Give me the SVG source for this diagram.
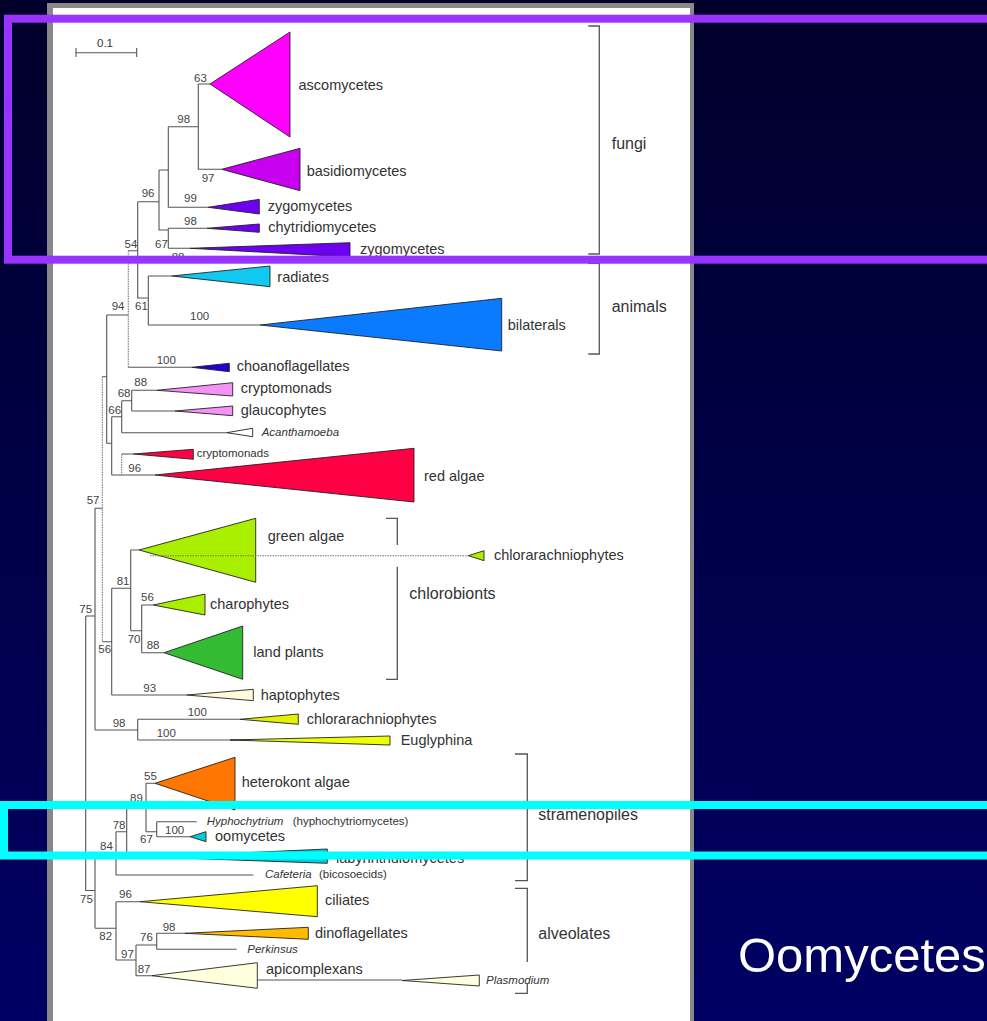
<svg xmlns="http://www.w3.org/2000/svg" width="987" height="1021" viewBox="0 0 987 1021">
<defs>
<linearGradient id="bg" x1="0" y1="0" x2="0" y2="1">
<stop offset="0" stop-color="#00002a"/>
<stop offset="1" stop-color="#000064"/>
</linearGradient>
<style>
.br{fill:none;stroke:#555;stroke-width:1.1}
.dot{fill:none;stroke:#777;stroke-width:1.1;stroke-dasharray:1.5 1}
.tri{stroke:#222;stroke-width:0.9;stroke-linejoin:miter}
.lb{font-family:"Liberation Sans",Arial,Helvetica,sans-serif;font-size:14.5px;fill:#333}
.it{font-family:"Liberation Sans",Arial,Helvetica,sans-serif;font-size:11.5px;font-style:italic;fill:#333}
.sm{font-family:"Liberation Sans",Arial,Helvetica,sans-serif;font-size:11.5px;fill:#333}
.bs{font-family:"Liberation Sans",Arial,Helvetica,sans-serif;font-size:11.5px;fill:#444}
.grp{font-family:"Liberation Sans",Arial,Helvetica,sans-serif;font-size:16px;fill:#333}
.brk{fill:none;stroke:#555;stroke-width:1.3}
.hl{fill:none;stroke-width:8}
</style>
</defs>
<rect x="0" y="0" width="987" height="1021" fill="url(#bg)"/>
<rect x="47" y="3" width="647" height="1030" fill="#888"/>
<rect x="53" y="8" width="637" height="1030" fill="#fff"/>

<g id="scalebar">
<path class="br" d="M76,52.7H136.7M76,48V57M136.7,48V57"/>
<text class="sm" x="97" y="46.7" font-size="10.5">0.1</text>
</g>

<g id="connectors">
<path class="br" d="M198.3,84H210M198.3,84V169.3H221.7M168.3,126.7H198.3M168.3,126.7V207.3H208M159,170H168.3M159,170V230H168.3M168.3,228.3V248.3M168.3,228.3H207M168.3,248.3H190M137.7,201.7H159M137.7,201.7V298H148.3M148.3,276V325M148.3,276H171.7M148.3,325H260M128.3,250.7H137.7M128.3,367.3H191.7M106.7,315H128.3M106.7,315V443.3H111.7M111.7,416.7V475M111.7,416.7H121.7M121.7,400.7V432.7M121.7,400.7H131.7M131.7,390.3V411M131.7,390.3H156.7M131.7,411H175M121.7,432.7H226.7M111.7,475H155M121.7,454H133.3M102.3,376.7H106.7M95,508.3H102.3M95,508.3V730M102.3,641.7H111.7M111.7,588.3V695M111.7,588.3H130.7M130.7,550V630.7M130.7,550H139M130.7,630.7H141.7M141.7,605V652.7M141.7,605H153.3M141.7,652.7H164M111.7,695H186.7M95,730H137.7M137.7,719.3V740M137.7,719.3H240M137.7,740H250M85.7,616H95M85.7,616V890.5H95M95,853V928.3M95,853H116M116,831.7V875H253.3M116,831.7H126.7M126.7,807.5V857M126.7,807.5H146M126.7,857H150M146,783.3V831.7M146,783.3H155M146,831.7H156.7M156.7,821.7V836.7M156.7,821.7H196.7M156.7,836.7H190M95,928.3H116M116,901.7V960M116,901.7H140M116,960H136M136,945V975.7M136,945H156.7M156.7,933.3V949.3M156.7,933.3H185M156.7,949.3H236.7M136,975.7H151.7M257.3,980H402"/>
<path class="dot" d="M128.3,250.7V367.3M121.7,454V475M102.3,376.7V641.7"/>
</g>

<g id="ascomycetes"><polygon class="tri" fill="#ff00ff" points="210,84 290,32 290,137"/><text class="lb" x="298.5" y="89.5">ascomycetes</text></g>
<g id="basidiomycetes"><polygon class="tri" fill="#c800f0" points="221.7,169.3 300,148.3 300,190.7"/><text class="lb" x="306.7" y="175.5">basidiomycetes</text></g>
<g id="zygomycetes1"><polygon class="tri" fill="#6c00f0" points="208,207.3 259.3,199.3 259.3,214"/><text class="lb" x="267.7" y="210.5">zygomycetes</text></g>
<g id="chytridiomycetes"><polygon class="tri" fill="#6c00f0" points="207,228.3 259.3,224 259.3,232.3"/><text class="lb" x="268.3" y="231.5">chytridiomycetes</text></g>
<g id="zygomycetes2"><polygon class="tri" fill="#6c00f0" points="190,248.3 350,242.7 350,257"/><text class="lb" x="360" y="253.5">zygomycetes</text></g>
<g id="radiates"><polygon class="tri" fill="#10c8f0" points="171.7,276 270,266 270,286.7"/><text class="lb" x="277.3" y="281.5">radiates</text></g>
<g id="bilaterals"><polygon class="tri" fill="#0a7bff" points="260,325 501.7,298.3 501.7,351"/><text class="lb" x="507.7" y="329.5">bilaterals</text></g>
<g id="choanoflagellates"><polygon class="tri" fill="#2200d8" points="191.7,367.3 229.3,363.3 229.3,371.7"/><text class="lb" x="236.7" y="371">choanoflagellates</text></g>
<g id="cryptomonads"><polygon class="tri" fill="#f592f5" points="156.7,390.3 232.7,382.7 232.7,396"/><text class="lb" x="240.7" y="393">cryptomonads</text></g>
<g id="glaucophytes"><polygon class="tri" fill="#f592f5" points="175,411 232.7,406 232.7,415.7"/><text class="lb" x="240.7" y="414.5">glaucophytes</text></g>
<g id="acanthamoeba"><polygon class="tri" fill="#fff" points="226.7,432.7 252.7,428.3 252.7,436.7"/><text class="it" x="261.7" y="436">Acanthamoeba</text></g>
<g id="cryptomonads-red"><polygon class="tri" fill="#ff0044" points="133.3,454 193.3,449.3 193.3,459.3"/><text class="sm" x="196.7" y="456.5" font-size="10">cryptomonads</text></g>
<g id="red-algae"><polygon class="tri" fill="#ff0044" points="155,475 414,448.3 414,502"/><text class="lb" x="424" y="481">red algae</text></g>
<g id="green-algae"><polygon class="tri" fill="#aaee00" points="139,550 255.7,518.3 255.7,582.3"/><text class="lb" x="267.7" y="541">green algae</text></g>
<g id="chlorarachniophytes1"><path class="dot" d="M150,555.7H468.3" stroke="#666"/><polygon class="tri" fill="#aaee00" points="468.3,555.7 484,550.7 484,560.7"/><text class="lb" x="494" y="559.5">chlorarachniophytes</text></g>
<g id="charophytes"><polygon class="tri" fill="#aaee00" points="153.3,605 205,594 205,615"/><text class="lb" x="210" y="608.5">charophytes</text></g>
<g id="land-plants"><polygon class="tri" fill="#33bb33" points="164,652.7 242.7,626 242.7,679.3"/><text class="lb" x="253.3" y="657">land plants</text></g>
<g id="haptophytes"><polygon class="tri" fill="#fffadc" points="186.7,695 253.3,689.3 253.3,700.7"/><text class="lb" x="260.7" y="699.5">haptophytes</text></g>
<g id="chlorarachniophytes2"><polygon class="tri" fill="#e5f000" points="240,719.3 298.3,714 298.3,724.3"/><text class="lb" x="306.7" y="723.5">chlorarachniophytes</text></g>
<g id="euglyphina"><polygon class="tri" fill="#eeff00" points="230,740 390,736 390,745"/><text class="lb" x="400.7" y="745">Euglyphina</text></g>
<g id="heterokont-algae"><polygon class="tri" fill="#ff7700" points="155,783.3 235,757.3 235,810"/><text class="lb" x="241.7" y="787">heterokont algae</text></g>
<g id="hyphochytrium"><text class="it" x="206.7" y="825">Hyphochytrium<tspan class="sm" font-style="normal" x="292.7">(hyphochytriomycetes)</tspan></text></g>
<g id="oomycetes"><polygon class="tri" fill="#00ccdd" points="190,836.7 206,831.7 206,841.7"/><text class="lb" x="215" y="840.5">oomycetes</text></g>
<g id="labyrinthulomycetes"><polygon class="tri" fill="#00ccdd" points="150,857 327.3,849 327.3,863.3"/><text class="lb" x="336" y="862.5">labyrinthulomycetes</text></g>
<g id="cafeteria"><text class="it" x="265" y="878">Cafeteria<tspan class="sm" font-style="normal" x="319">(bicosoecids)</tspan></text></g>
<g id="ciliates"><polygon class="tri" fill="#ffff00" points="140,901.7 317.3,885.7 317.3,916.7"/><text class="lb" x="325" y="905">ciliates</text></g>
<g id="dinoflagellates"><polygon class="tri" fill="#ffbb00" points="185,933.3 308.3,927.3 308.3,939.3"/><text class="lb" x="315" y="937.5">dinoflagellates</text></g>
<g id="perkinsus"><text class="it" x="247.3" y="953">Perkinsus</text></g>
<g id="apicomplexans"><polygon class="tri" fill="#ffffdd" points="151.7,975.7 257.3,962.7 257.3,988.3"/><text class="lb" x="266" y="973.5">apicomplexans</text></g>
<g id="plasmodium"><polygon class="tri" fill="#ffffdd" points="402,980.5 479.3,975 479.3,986"/><text class="it" x="486" y="984">Plasmodium</text></g>

<g id="bootstrap">
<text class="bs" x="194" y="81.7">63</text>
<text class="bs" x="177.3" y="122.7">98</text>
<text class="bs" x="201.7" y="181.7">97</text>
<text class="bs" x="184" y="201.7">99</text>
<text class="bs" x="141.7" y="197.3">96</text>
<text class="bs" x="184" y="225">98</text>
<text class="bs" x="124.5" y="248.3">54</text>
<text class="bs" x="155" y="248.3">67</text>
<text class="bs" x="171.7" y="260.5">88</text>
<text class="bs" x="111.7" y="310">94</text>
<text class="bs" x="135" y="310">61</text>
<text class="bs" x="190" y="320">100</text>
<text class="bs" x="156.7" y="364">100</text>
<text class="bs" x="134.3" y="386">88</text>
<text class="bs" x="117.7" y="396.7">68</text>
<text class="bs" x="108.3" y="414">66</text>
<text class="bs" x="128.3" y="471.7">96</text>
<text class="bs" x="86.7" y="504">57</text>
<text class="bs" x="116.7" y="585">81</text>
<text class="bs" x="141" y="600.7">56</text>
<text class="bs" x="79.3" y="612.7">75</text>
<text class="bs" x="127.7" y="643.3">70</text>
<text class="bs" x="146.7" y="649">88</text>
<text class="bs" x="98.3" y="652.7">56</text>
<text class="bs" x="143.3" y="691.7">93</text>
<text class="bs" x="187.7" y="715.7">100</text>
<text class="bs" x="112.7" y="726.7">98</text>
<text class="bs" x="156.7" y="736.7">100</text>
<text class="bs" x="144" y="780">55</text>
<text class="bs" x="130" y="801.7">89</text>
<text class="bs" x="112.7" y="829.3">78</text>
<text class="bs" x="165" y="834">100</text>
<text class="bs" x="140" y="843.3">67</text>
<text class="bs" x="100" y="850">84</text>
<text class="bs" x="119" y="898.3">96</text>
<text class="bs" x="80" y="903.3">75</text>
<text class="bs" x="162.7" y="930.7">98</text>
<text class="bs" x="99.3" y="940">82</text>
<text class="bs" x="140" y="941">76</text>
<text class="bs" x="121" y="958.3">97</text>
<text class="bs" x="137.7" y="973.3">87</text>
</g>

<g id="clade-brackets">
<path class="brk" d="M588.3,26H599.3V254H588.3"/>
<text class="grp" x="611.7" y="148.5">fungi</text>
<path class="brk" d="M588.3,263.3H599.3V354H588.3"/>
<text class="grp" x="611.7" y="312">animals</text>
<path class="brk" d="M386,518.3H397.3V545M397.3,566.7V679.3H386"/>
<text class="grp" x="409.3" y="598.5">chlorobionts</text>
<path class="brk" d="M515,754H527.3V880.7H515"/>
<text class="grp" x="538.3" y="819.5">stramenopiles</text>
<path class="brk" d="M515,888.3H527.3V962M527.3,983V993.3H515"/>
<text class="grp" x="538.3" y="939">alveolates</text>
</g>

<g id="highlights">
<rect class="hl" x="8" y="18.7" width="1000" height="241" stroke="#9933ff"/>
<rect class="hl" x="4" y="805" width="1000" height="50.5" stroke="#00ffff"/>
</g>
<text x="738" y="972" font-family="'Liberation Sans',Arial,Helvetica,sans-serif" font-size="49" fill="#ffffff">Oomycetes</text>
</svg>
